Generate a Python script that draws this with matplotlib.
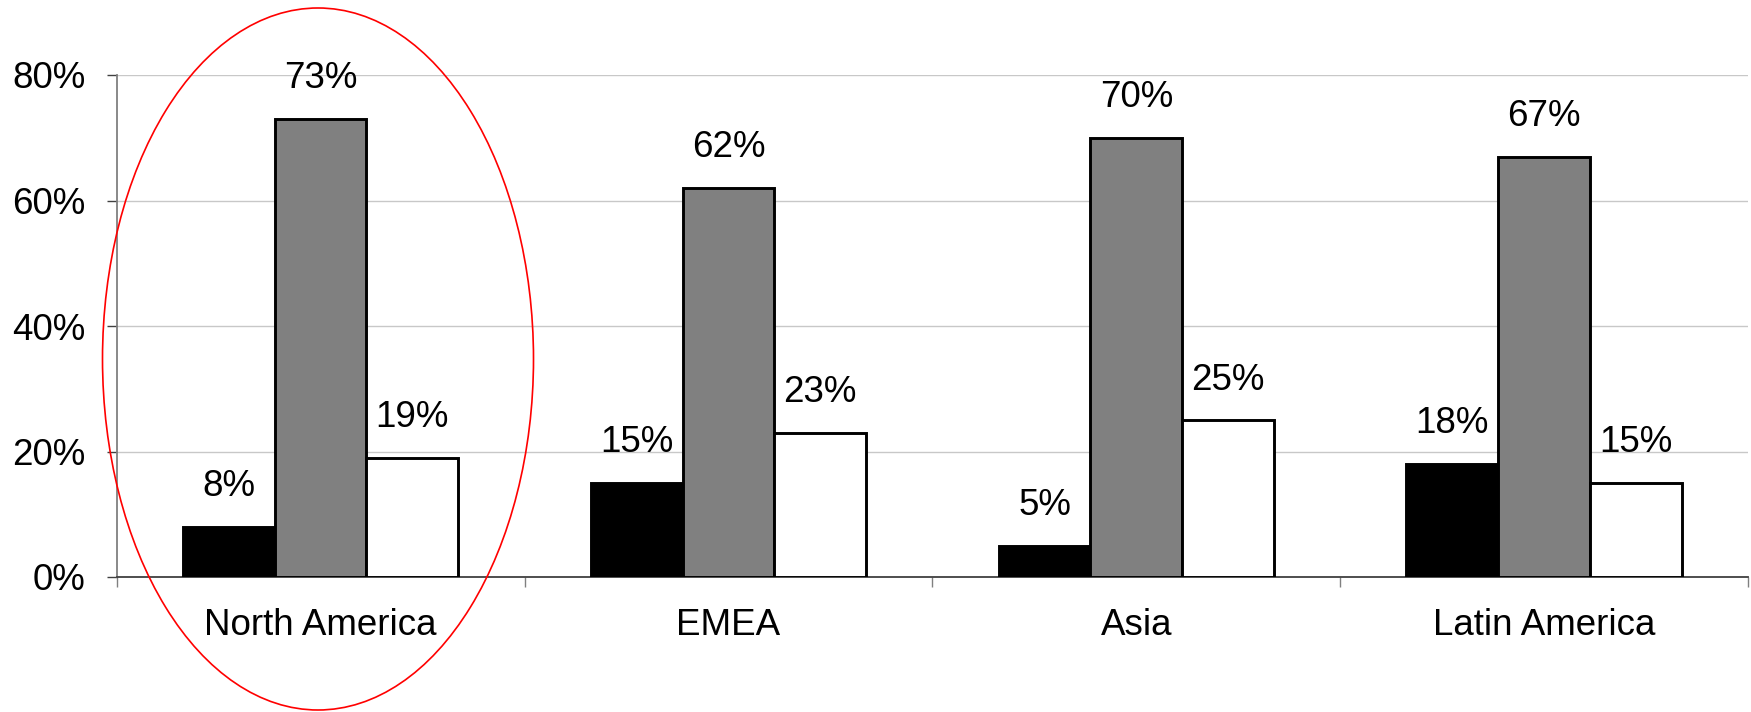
import matplotlib
matplotlib.use("Agg")
import matplotlib.pyplot as plt
from matplotlib.patches import Ellipse
import numpy as np

categories = ["North America", "EMEA", "Asia", "Latin America"]
series_black = [8, 15, 5, 18]
series_gray = [73, 62, 70, 67]
series_white = [19, 23, 25, 15]
yticks = [0, 20, 40, 60, 80]
ytick_labels = ["0%", "20%", "40%", "60%", "80%"]

plt.rcParams['font.family'] = ['Liberation Sans', 'DejaVu Sans']
FS = 26.5

fig = plt.figure(figsize=(17.51, 7.12), dpi=100)
ax = fig.add_axes([116.7/1751, 1 - 577/712, (1748 - 116.7)/1751, (577 - 75)/712])

x = np.arange(len(categories))
w = 0.225
series = [(series_black, "#000000", -w), (series_gray, "#808080", 0), (series_white, "#ffffff", w)]
for vals, col, off in series:
    bars = ax.bar(x + off, vals, width=w, color=col, edgecolor="black", linewidth=2.1, zorder=3)
    for b, v in zip(bars, vals):
        ax.annotate(f"{v}%", (b.get_x() + b.get_width()/2, v), xytext=(0, 22),
                    textcoords="offset points", ha="center", va="baseline", fontsize=FS)

ax.set_xlim(-0.5, len(categories) - 0.5)
ax.set_ylim(0, 80)
ax.set_yticks(yticks)
ax.set_yticklabels(ytick_labels, fontsize=FS)
ax.yaxis.grid(True, color="#c8c8c8", linewidth=1.0, zorder=0)
ax.set_axisbelow(True)

ax.set_xticks(np.arange(len(categories) + 1) - 0.5)
ax.set_xticklabels([])
ax.set_xticks(x, minor=True)
ax.set_xticklabels(categories, minor=True, fontsize=FS)
ax.tick_params(axis="x", which="major", length=7.5, width=1, color="#808080", direction="out")
ax.tick_params(axis="x", which="minor", length=0, pad=22)
ax.tick_params(axis="y", length=7.5, width=1, color="#404040", pad=15)

for s in ["top", "right"]:
    ax.spines[s].set_visible(False)
ax.spines["left"].set_color("#808080")
ax.spines["left"].set_linewidth(1.3)
ax.spines["bottom"].set_color("#404040")
ax.spines["bottom"].set_linewidth(1.3)

ell = Ellipse((318/1751, 1 - 359/712), 431/1751, 702/712, transform=fig.transFigure,
              fill=False, edgecolor="#ff0000", linewidth=1.2, zorder=10)
fig.patches.append(ell)

fig.savefig("out.png", dpi=100)
